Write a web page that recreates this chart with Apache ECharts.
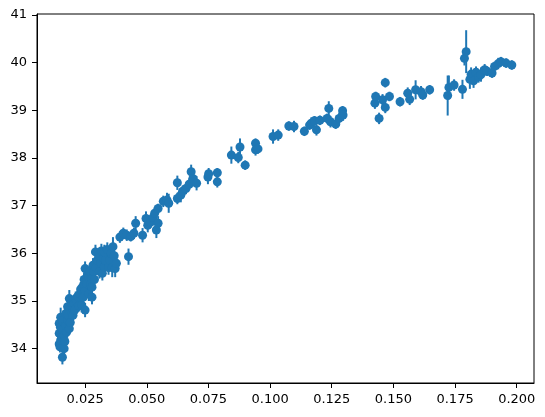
<!DOCTYPE html>
<html>
<head>
<meta charset="utf-8">
<script src="https://cdn.jsdelivr.net/npm/echarts@6/dist/echarts.min.js"></script>
<style>
  html, body { margin: 0; padding: 0; background: #fff; }
  #chart { width: 545px; height: 417px; }
</style>
</head>
<body>
<div id="chart"></div>
<script>
// x positions of the measurements
const xValues = [
  0.0145, 0.0145, 0.0145, 0.0148, 0.0150, 0.0151, 0.0151, 0.0155, 0.0158, 0.0158,
  0.0160, 0.0165, 0.0165, 0.0168, 0.0172, 0.0172, 0.0175, 0.0179, 0.0179, 0.0182,
  0.0186, 0.0186, 0.0190, 0.0194, 0.0198, 0.0201, 0.0205, 0.0208, 0.0212, 0.0215,
  0.0220, 0.0225, 0.0229, 0.0232, 0.0236, 0.0240, 0.0243, 0.0246, 0.0250, 0.0250,
  0.0250, 0.0255, 0.0257, 0.0260, 0.0264, 0.0265, 0.0270, 0.0272, 0.0278, 0.0278,
  0.0278, 0.0282, 0.0285, 0.0288, 0.0292, 0.0295, 0.0300, 0.0306, 0.0308, 0.0313,
  0.0316, 0.0320, 0.0325, 0.0328, 0.0328, 0.0333, 0.0340, 0.0345, 0.0349, 0.0356,
  0.0360, 0.0363, 0.0368, 0.0372, 0.0377, 0.0391, 0.0405, 0.0419, 0.0426, 0.0435,
  0.0448, 0.0455, 0.0483, 0.0497, 0.0504, 0.0515, 0.0525, 0.0532, 0.0539, 0.0546,
  0.0546, 0.0567, 0.0582, 0.0589, 0.0624, 0.0624, 0.0638, 0.0645, 0.0659, 0.0672,
  0.0680, 0.0687, 0.0702, 0.0748, 0.0751, 0.0786, 0.0786, 0.0843, 0.0871, 0.0878,
  0.0899, 0.0941, 0.0941, 0.0951, 0.1012, 0.1033, 0.1076, 0.1097, 0.1139, 0.1160,
  0.1167, 0.1180, 0.1188, 0.1202, 0.1231, 0.1238, 0.1245, 0.1266, 0.1280, 0.1294,
  0.1296, 0.1425, 0.1428, 0.1442, 0.1456, 0.1467, 0.1467, 0.1484, 0.1527, 0.1558,
  0.1566, 0.1590, 0.1612, 0.1619, 0.1647, 0.1720, 0.1725, 0.1746, 0.1780, 0.1788,
  0.1795, 0.1810, 0.1815, 0.1825, 0.1835, 0.1845, 0.1855, 0.1870, 0.1880, 0.1900,
  0.1910, 0.1925, 0.1936, 0.1957, 0.1980
];
// measured values
const yValues = [
  34.53, 34.32, 34.10, 34.04, 34.45, 34.18, 34.66, 34.25, 33.82, 34.39,
  34.58, 34.00, 34.28, 34.15, 34.49, 34.74, 34.35, 34.60, 34.88, 34.70,
  34.42, 35.05, 34.55, 34.88, 34.75, 34.70, 34.95, 34.81, 35.05, 34.98,
  35.10, 34.90, 35.15, 35.25, 34.91, 35.30, 35.08, 35.45, 34.81, 35.22,
  35.68, 35.40, 35.36, 35.55, 35.50, 35.15, 35.62, 35.35, 35.08, 35.29,
  35.47, 35.75, 35.61, 35.45, 36.03, 35.70, 35.85, 35.93, 35.62, 35.79,
  36.05, 35.58, 35.90, 36.03, 35.72, 35.85, 36.08, 35.70, 35.86, 36.00,
  35.70, 36.14, 35.95, 35.68, 35.79, 36.34, 36.42, 36.38, 35.93, 36.35,
  36.42, 36.63, 36.38, 36.73, 36.59, 36.65, 36.75, 36.84, 36.49, 36.63,
  36.94, 37.09, 37.12, 37.05, 37.48, 37.15, 37.22, 37.30, 37.36, 37.45,
  37.71, 37.57, 37.47, 37.60, 37.67, 37.69, 37.50, 38.06, 38.01, 38.23,
  37.85, 38.31, 38.17, 38.19, 38.45, 38.48, 38.67, 38.66, 38.56, 38.69,
  38.73, 38.78, 38.59, 38.79, 38.83, 39.04, 38.76, 38.71, 38.83, 38.99,
  38.90, 39.15, 39.29, 38.83, 39.22, 39.58, 39.06, 39.29, 39.18, 39.36,
  39.23, 39.43, 39.39, 39.32, 39.43, 39.31, 39.48, 39.53, 39.44, 40.09,
  40.23, 39.65, 39.75, 39.62, 39.80, 39.70, 39.75, 39.85, 39.82, 39.78,
  39.92, 39.98, 40.02, 39.99, 39.95
];
// half-length of each error bar
const yErrors = [
  0.15, 0.15, 0.12, 0.12, 0.15, 0.12, 0.20, 0.15, 0.15, 0.15,
  0.20, 0.12, 0.15, 0.12, 0.15, 0.15, 0.12, 0.15, 0.15, 0.12,
  0.12, 0.18, 0.15, 0.15, 0.12, 0.12, 0.15, 0.15, 0.15, 0.15,
  0.15, 0.12, 0.15, 0.15, 0.15, 0.15, 0.15, 0.15, 0.15, 0.15,
  0.15, 0.15, 0.15, 0.18, 0.15, 0.15, 0.15, 0.12, 0.15, 0.15,
  0.15, 0.15, 0.15, 0.12, 0.15, 0.15, 0.15, 0.15, 0.15, 0.15,
  0.15, 0.15, 0.15, 0.15, 0.15, 0.15, 0.15, 0.15, 0.15, 0.15,
  0.20, 0.20, 0.15, 0.18, 0.15, 0.12, 0.12, 0.12, 0.17, 0.10,
  0.12, 0.15, 0.15, 0.15, 0.15, 0.12, 0.12, 0.12, 0.17, 0.15,
  0.10, 0.12, 0.15, 0.20, 0.15, 0.12, 0.15, 0.12, 0.12, 0.12,
  0.15, 0.15, 0.15, 0.15, 0.12, 0.10, 0.12, 0.18, 0.12, 0.18,
  0.10, 0.10, 0.12, 0.10, 0.15, 0.12, 0.10, 0.12, 0.10, 0.10,
  0.12, 0.10, 0.12, 0.10, 0.10, 0.15, 0.12, 0.10, 0.12, 0.10,
  0.12, 0.12, 0.10, 0.12, 0.12, 0.10, 0.12, 0.10, 0.10, 0.12,
  0.12, 0.20, 0.12, 0.10, 0.10, 0.42, 0.25, 0.12, 0.20, 0.15,
  0.45, 0.20, 0.15, 0.15, 0.12, 0.12, 0.15, 0.12, 0.10, 0.10,
  0.10, 0.12, 0.10, 0.10, 0.10
];
const xTicks = [0.025, 0.05, 0.075, 0.1, 0.125, 0.15, 0.175, 0.2];
const yTicks = [34, 35, 36, 37, 38, 39, 40, 41];

const blue = "#1f77b4";
const points = xValues.map((x, i) => [x, yValues[i]]);
const bars = xValues.map((x, i) => [x, yValues[i] - yErrors[i], yValues[i] + yErrors[i]]);

const chart = echarts.init(document.getElementById("chart"), null, { renderer: "canvas" });
const labelStyle = { color: "#000", fontFamily: "DejaVu Sans", fontSize: 13 };

chart.setOption({
  animation: false,
  grid: {
    left: 37, right: 11, top: 14, bottom: 34,
    show: true, borderColor: "#000", borderWidth: 1, backgroundColor: "transparent",
  },
  xAxis: {
    type: "value",
    min: 0.0055,
    max: 0.207,
    splitLine: { show: false },
    axisLine: { show: true, lineStyle: { color: "#000", width: 1 } },
    axisTick: { show: true, length: 5, customValues: xTicks, lineStyle: { color: "#000" } },
    axisLabel: {
      ...labelStyle, margin: 10, customValues: xTicks,
      formatter: (v) => v.toFixed(3),
    },
  },
  yAxis: {
    type: "value",
    min: 33.28,
    max: 41.02,
    splitLine: { show: false },
    axisLine: { show: true, lineStyle: { color: "#000", width: 1 } },
    axisTick: { show: true, length: 5, customValues: yTicks, lineStyle: { color: "#000" } },
    axisLabel: { ...labelStyle, margin: 10, customValues: yTicks },
  },
  series: [
    {
      type: "custom",
      data: bars,
      renderItem: (params, api) => {
        const top = api.coord([api.value(0), api.value(2)]);
        const bottom = api.coord([api.value(0), api.value(1)]);
        return {
          type: "line",
          shape: { x1: top[0], y1: top[1], x2: bottom[0], y2: bottom[1] },
          style: { stroke: blue, lineWidth: 2 },
        };
      },
      encode: { x: 0, y: [1, 2] },
      z: 2,
    },
    {
      type: "scatter",
      data: points,
      symbol: "circle",
      symbolSize: 9,
      itemStyle: { color: blue, opacity: 1 },
      z: 3,
    },
  ],
});
</script>
</body>
</html>
